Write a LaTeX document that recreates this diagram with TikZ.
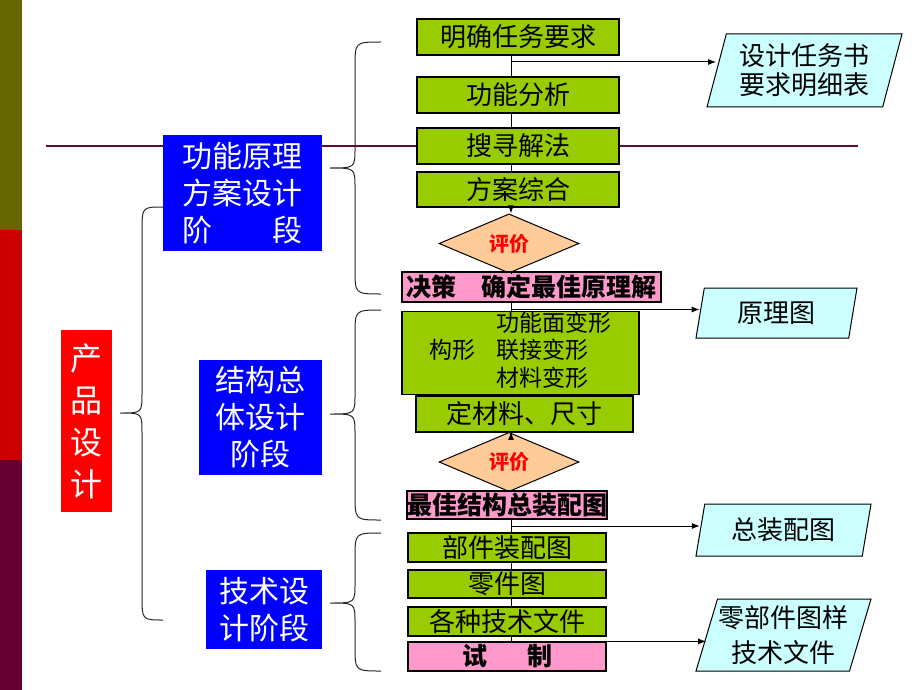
\documentclass[tikz,border=0pt]{standalone}
\usepackage{fontspec}
\newfontfamily\cjk{Noto Sans CJK SC}
\usepackage{tikz}
\usetikzlibrary{arrows.meta,shapes.geometric}
\definecolor{olivebar}{HTML}{666600}
\definecolor{redbar}{HTML}{CC0000}
\definecolor{maroonbar}{HTML}{660033}
\definecolor{stepgreen}{HTML}{99CC00}
\definecolor{steppink}{HTML}{FF99CC}
\definecolor{evalpeach}{HTML}{FFCC99}
\definecolor{outcyan}{HTML}{CCFFFF}
\definecolor{stageblue}{HTML}{0000FF}
\definecolor{productred}{HTML}{FF0000}
\definecolor{ruleline}{HTML}{5C1033}
\tikzset{
  greenbox/.style={draw=black, line width=1.2pt, fill=stepgreen, inner sep=0pt,
    font=\cjk\fontsize{26}{30}\selectfont},
  pinkbox/.style={greenbox, fill=steppink, font=\cjk\bfseries\fontsize{25}{30}\selectfont},
  stagebox/.style={fill=stageblue, text=white, inner sep=0pt, align=center,
    font=\cjk\fontsize{30}{37}\selectfont},
  evalbox/.style={diamond, draw=black, line width=1pt, fill=evalpeach, inner sep=0pt,
    minimum width=140pt, minimum height=44pt, text=red,
    font=\cjk\bfseries\fontsize{20}{22}\selectfont},
  outbox/.style={trapezium, trapezium left angle=70, trapezium right angle=110,
    trapezium stretches body, draw=black, line width=1pt, fill=outcyan,
    align=center, inner sep=0pt, font=\cjk\fontsize{26}{29}\selectfont},
  flow/.style={line width=1pt, black},
  arr/.style={flow, -{Latex[length=8pt,width=6pt]}},
  curly/.style={line width=1pt, black!85}
}
\begin{document}
\begin{tikzpicture}[x=1pt, y=-1pt]
  \useasboundingbox (0,0) rectangle (920,690);
  %BAR
  \fill[olivebar] (0,0) rectangle (22,230);
  \fill[redbar] (0,230) rectangle (22,460);
  \fill[maroonbar] (0,460) rectangle (22,690);
  %GARIS
  \draw[ruleline, line width=2.2pt] (46,146) -- (858,146);
  %SPINE
  \coordinate (sp) at (511,0);
  %STAGES
  \node[stagebox, fill=productred, minimum width=51pt, minimum height=182pt,
    font=\cjk\fontsize{32}{42}\selectfont] (pd) at (86.5,421) {产\\品\\设\\计};
  \node[stagebox, minimum width=159pt, minimum height=116pt] (p1) at (242.5,193) {功能原理\\方案设计\\阶　　段};
  \node[stagebox, minimum width=123pt, minimum height=115pt] (p2) at (260.5,417.5) {结构总\\体设计\\阶段};
  \node[stagebox, minimum width=116pt, minimum height=79pt] (p3) at (264,609.5) {技术设\\计阶段};
  %STEPS
  \node[greenbox, minimum width=202pt, minimum height=36pt] (t1) at (518,37) {明确任务要求};
  \node[greenbox, minimum width=202pt, minimum height=36pt] (t2) at (518,95) {功能分析};
  \node[greenbox, minimum width=202pt, minimum height=36pt] (t3) at (518,146) {搜寻解法};
  \node[greenbox, minimum width=202pt, minimum height=35pt] (t4) at (518,189.5) {方案综合};
  \node[evalbox] (e1) at (509,243.5) {评价};
  \node[pinkbox, minimum width=259pt, minimum height=30pt] (d1) at (531.5,287) {决策　确定最佳原理解};
  \node[greenbox, minimum width=237pt, minimum height=72pt,
    font=\cjk\fontsize{23}{27}\selectfont] (s1) at (520.5,353)
    {\begin{tabular}{@{}l@{\hspace{21pt}}l@{}} & 功能面变形\\ 构形 & 联接变形\\ & 材料变形\end{tabular}};
  \node[greenbox, minimum width=217pt, minimum height=36pt] (s2) at (524.5,414) {定材料、尺寸};
  \node[evalbox] (e2) at (509,462) {评价};
  \node[pinkbox, minimum width=198pt, minimum height=28pt] (d2) at (507,505) {最佳结构总装配图};
  \node[greenbox, minimum width=198pt, minimum height=29pt] (r1) at (507,547.5) {部件装配图};
  \node[greenbox, minimum width=198pt, minimum height=28pt] (r2) at (507,584) {零件图};
  \node[greenbox, minimum width=198pt, minimum height=29pt] (r3) at (507,621.5) {各种技术文件};
  \node[pinkbox, minimum width=198pt, minimum height=29pt] (d3) at (507,656.5) {试\hspace{1.6em}制};
  %OUTPUT
  \node[outbox, minimum width=195pt, minimum height=73pt] (o1) at (804.5,70.5) {设计任务书\\要求明细表};
  \node[outbox, minimum width=161pt, minimum height=50pt] (o2) at (776.5,313) {原理图};
  \node[outbox, minimum width=175pt, minimum height=52pt] (o3) at (783.5,530) {总装配图};
  \node[outbox, minimum width=175pt, minimum height=72pt,
    font=\cjk\fontsize{26}{35}\selectfont] (o4) at (783.5,635) {零部件图样\\技术文件};
  %LINKS
  \foreach \a/\b in {t1/t2,t2/t3,t3/t4,e1/d1,d1/s1,s1/s2,e2/d2,d2/r1,r1/r2,r2/r3,r3/d3}
    \draw[flow] (\a.south -| sp) -- (\b.north -| sp);
  \draw[arr] (t4.south -| sp) -- (e1.north -| sp);
  \draw[arr] (s2.south -| sp) -- (e2.north -| sp);
  \coordinate (b1) at (511,62);
  \coordinate (b2) at (511,309.5);
  \coordinate (b3) at (511,526);
  \draw[arr] (b1) -- (b1 -| o1.west);
  \draw[arr] (b2) -- (b2 -| o2.west);
  \draw[arr] (b3) -- (b3 -| o3.west);
  \draw[arr] (d3.north -| sp) -- (d3.north -| o4.west);
  %KURUNG
  \draw[curly] (163,207) .. controls (142,207) .. (142,232) -- (142,393)
    .. controls (142,413) .. (120,413) .. controls (142,413) .. (142,433)
    -- (142,595) .. controls (142,620) .. (163,620);
  \draw[curly] (381,42) .. controls (355,42) .. (355,67) -- (355,148)
    .. controls (355,168) .. (330,168) .. controls (355,168) .. (355,188)
    -- (355,269) .. controls (355,294) .. (381,294);
  \draw[curly] (381,310) .. controls (355,310) .. (355,335) -- (355,394)
    .. controls (355,414) .. (330,414) .. controls (355,414) .. (355,434)
    -- (355,495) .. controls (355,520) .. (381,520);
  \draw[curly] (381,533) .. controls (355,533) .. (355,558) -- (355,583)
    .. controls (355,603) .. (330,603) .. controls (355,603) .. (355,623)
    -- (355,646) .. controls (355,671) .. (381,671);
\end{tikzpicture}
\end{document}
